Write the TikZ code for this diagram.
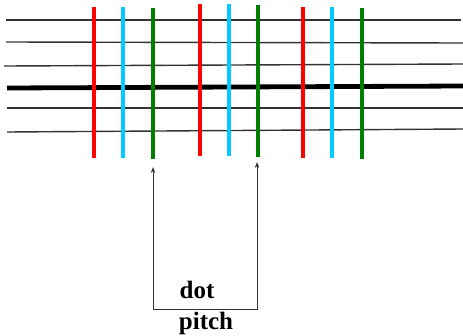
\documentclass[tikz,border=0pt]{standalone}
\usepackage{fontspec}
\setmainfont{Liberation Serif}
\usetikzlibrary{arrows.meta}
\definecolor{barred}{HTML}{FF0000}
\definecolor{barcyan}{HTML}{00CCFF}
\definecolor{bargreen}{HTML}{008000}
\begin{document}
\begin{tikzpicture}[x=1pt,y=-1pt,
  wire/.style={line width=1.4pt,black!80},
  thickwire/.style={line width=4.8pt,black},
  bar/.style={line width=4.4pt},
  dim/.style={line width=1pt,black!80,{Stealth[length=6pt,width=4.5pt]}-{Stealth[length=6pt,width=4.5pt]}},
  lbl/.style={font=\bfseries\fontsize{25}{25}\selectfont,inner sep=0pt,anchor=base}]
\useasboundingbox (0,0) rectangle (463,335);
% horizontal lines
\draw[wire] (6,20) -- (461,20);
\draw[wire] (6,42) -- (463,43);
\draw[wire] (4,66) -- (463,64);
\draw[thickwire] (7,88) -- (463,86);
\draw[wire] (7,108) -- (463,108);
\draw[wire] (7,132) -- (463,129);
% vertical bars
\draw[bar,barred] (94,7) -- (94,158);
\draw[bar,barcyan] (123,7) -- (123,158);
\draw[bar,bargreen] (153,8) -- (153,159);
\draw[bar,barred] (200,4) -- (200,156);
\draw[bar,barcyan] (229,4) -- (229,156);
\draw[bar,bargreen] (258,5) -- (258,157);
\draw[bar,barred] (303,7) -- (303,158);
\draw[bar,barcyan] (332,7) -- (332,158);
\draw[bar,bargreen] (362,8) -- (362,159);
% dimension
\coordinate (tipL) at (153,167);
\coordinate (cornL) at (153,309);
\coordinate (cornR) at (257,309);
\coordinate (tipR) at (257,162);
\draw[dim] (tipL) -- (cornL) -- (cornR) -- (tipR);
\node[lbl] (dot) at (197,298) {dot};
\node[lbl] (pitch) at (206,329) {pitch};
\end{tikzpicture}
\end{document}
